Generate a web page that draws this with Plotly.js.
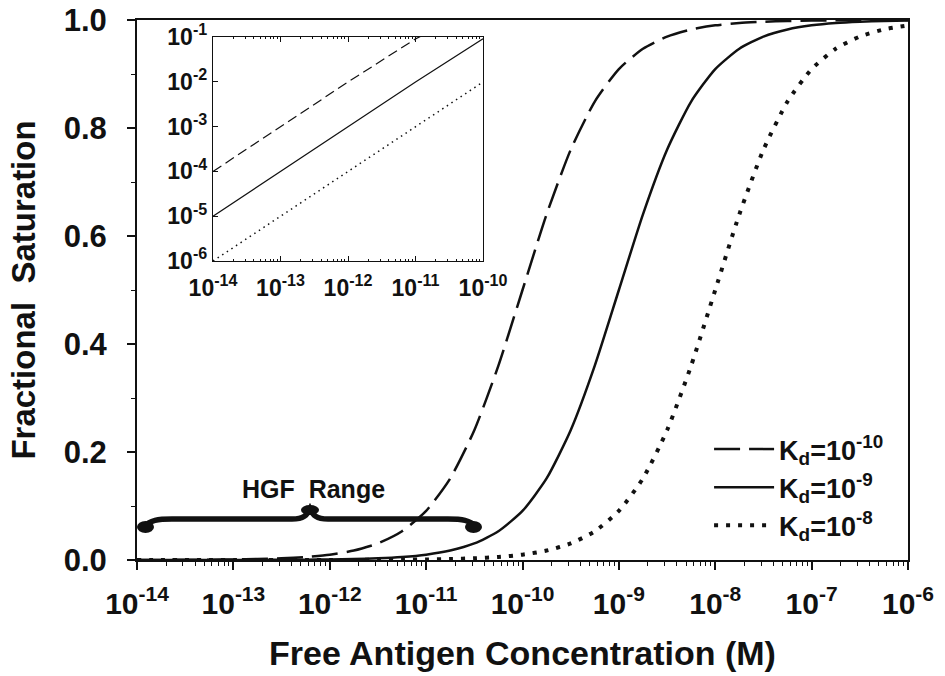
<!DOCTYPE html>
<html>
<head>
<meta charset="utf-8">
<script src="https://cdn.plot.ly/plotly-3.0.1.min.js"></script>
<style>html,body{margin:0;padding:0;background:#fff;}</style>
</head>
<body>
<div id="chart" style="width:945px;height:676px;"></div>
<script>
// Free antigen concentration (M), quarter-decade readings from 1e-14 to 1e-6
var conc = [
  1e-14, 1.778e-14, 3.162e-14, 5.623e-14,
  1e-13, 1.778e-13, 3.162e-13, 5.623e-13,
  1e-12, 1.778e-12, 3.162e-12, 5.623e-12,
  1e-11, 1.778e-11, 3.162e-11, 5.623e-11,
  1e-10, 1.778e-10, 3.162e-10, 5.623e-10,
  1e-9, 1.778e-9, 3.162e-9, 5.623e-9,
  1e-8, 1.778e-8, 3.162e-8, 5.623e-8,
  1e-7, 1.778e-7, 3.162e-7, 5.623e-7,
  1e-6
];
// Fractional saturation, Kd = 1e-10
var satKd10 = [1.0e-4, 1.778e-4, 3.161e-4, 5.62e-4, 9.99e-4, 1.775e-3, 3.152e-3, 5.592e-3, 9.9e-3, 0.01747, 0.03065, 0.05323, 0.0909, 0.151, 0.2403, 0.3599, 0.5, 0.6401, 0.7597, 0.849, 0.9091, 0.9468, 0.9693, 0.9825, 0.9901, 0.9944, 0.9968, 0.9982, 0.999, 0.9994, 0.9997, 0.9998, 0.9999];
// Fractional saturation, Kd = 1e-9
var satKd9 = [1.0e-5, 1.778e-5, 3.162e-5, 5.623e-5, 1.0e-4, 1.778e-4, 3.161e-4, 5.62e-4, 9.99e-4, 1.775e-3, 3.152e-3, 5.592e-3, 9.9e-3, 0.01747, 0.03065, 0.05323, 0.0909, 0.151, 0.2403, 0.3599, 0.5, 0.6401, 0.7597, 0.849, 0.9091, 0.9468, 0.9693, 0.9825, 0.9901, 0.9944, 0.9968, 0.9982, 0.999];
// Fractional saturation, Kd = 1e-8
var satKd8 = [1.0e-6, 1.778e-6, 3.162e-6, 5.623e-6, 1.0e-5, 1.778e-5, 3.162e-5, 5.623e-5, 1.0e-4, 1.778e-4, 3.161e-4, 5.62e-4, 9.99e-4, 1.775e-3, 3.152e-3, 5.592e-3, 9.9e-3, 0.01747, 0.03065, 0.05323, 0.0909, 0.151, 0.2403, 0.3599, 0.5, 0.6401, 0.7597, 0.849, 0.9091, 0.9468, 0.9693, 0.9825, 0.9901];

// Inset (log-log, low concentration)
var insetConc = [1e-14, 1e-13, 1e-12, 1e-11, 1e-10];
var insetKd10 = [1.0e-4, 1.0e-3, 9.9e-3, 0.0909, 0.5];
var insetKd9 = [1.0e-5, 1.0e-4, 1.0e-3, 9.9e-3, 0.0909];
var insetKd8 = [1.0e-6, 1.0e-5, 1.0e-4, 1.0e-3, 9.9e-3];

var seriesNames = ['K<sub>d</sub>=10<sup>-10</sup>', 'K<sub>d</sub>=10<sup>-9</sup>', 'K<sub>d</sub>=10<sup>-8</sup>'];

var xTickVals = [1e-14, 1e-13, 1e-12, 1e-11, 1e-10, 1e-9, 1e-8, 1e-7, 1e-6];
var xTickText = ['10<sup>-14</sup>', '10<sup>-13</sup>', '10<sup>-12</sup>', '10<sup>-11</sup>', '10<sup>-10</sup>', '10<sup>-9</sup>', '10<sup>-8</sup>', '10<sup>-7</sup>', '10<sup>-6</sup>'];
var yTickVals = [0, 0.2, 0.4, 0.6, 0.8, 1.0];
var yTickText = ['0.0', '0.2', '0.4', '0.6', '0.8', '1.0'];
var insetXTickVals = [1e-14, 1e-13, 1e-12, 1e-11, 1e-10];
var insetXTickText = ['10<sup>-14</sup>', '10<sup>-13</sup>', '10<sup>-12</sup>', '10<sup>-11</sup>', '10<sup>-10</sup>'];
var insetYTickVals = [1e-6, 1e-5, 1e-4, 1e-3, 1e-2, 1e-1];
var insetYTickText = ['10<sup>-6</sup>', '10<sup>-5</sup>', '10<sup>-4</sup>', '10<sup>-3</sup>', '10<sup>-2</sup>', '10<sup>-1</sup>'];

var FONT = 'Liberation Sans, Arial, Helvetica, sans-serif';

function minorLog(lo, hi) {
  var v = [];
  for (var e = lo; e < hi; e++) {
    for (var m = 2; m <= 9; m++) v.push(m * Math.pow(10, e));
  }
  return v;
}

var traces = [
  {x: conc, y: satKd10, name: seriesNames[0], mode: 'lines', line: {color: '#111', width: 2.5, dash: '26px,9px', shape: 'spline', smoothing: 0.6}, xaxis: 'x', yaxis: 'y'},
  {x: conc, y: satKd9, name: seriesNames[1], mode: 'lines', line: {color: '#111', width: 2.5, shape: 'spline', smoothing: 0.6}, xaxis: 'x', yaxis: 'y'},
  {x: conc, y: satKd8, name: seriesNames[2], mode: 'lines', line: {color: '#111', width: 4, dash: '4px,8px', shape: 'spline', smoothing: 0.6}, xaxis: 'x', yaxis: 'y'},
  {x: insetConc, y: insetKd10, mode: 'lines', showlegend: false, line: {color: '#111', width: 1.2, dash: '10px,5px'}, xaxis: 'x2', yaxis: 'y2'},
  {x: insetConc, y: insetKd9, mode: 'lines', showlegend: false, line: {color: '#111', width: 1.2}, xaxis: 'x2', yaxis: 'y2'},
  {x: insetConc, y: insetKd8, mode: 'lines', showlegend: false, line: {color: '#111', width: 1.5, dash: '1.5px,4px'}, xaxis: 'x2', yaxis: 'y2'}
];

// plot-area pixel -> paper helper for the brace annotation
var L = 137, R = 908, T = 20, B = 560;
function px(X) { return ((X - L) / (R - L)).toFixed(5); }
function py(Y) { return ((B - Y) / (B - T)).toFixed(5); }
function P(X, Y) { return px(X) + ',' + py(Y); }

var bracePath = 'M' + P(144, 527) +
  ' C' + P(150, 520) + ' ' + P(158, 519) + ' ' + P(172, 519) +
  ' L' + P(292, 519) +
  ' C' + P(304, 519) + ' ' + P(307, 515) + ' ' + P(310, 509) +
  ' C' + P(313, 515) + ' ' + P(316, 519) + ' ' + P(328, 519) +
  ' L' + P(448, 519) +
  ' C' + P(462, 519) + ' ' + P(470, 520) + ' ' + P(476, 527);

var shapes = [
  {type: 'path', xref: 'paper', yref: 'paper', path: bracePath, line: {color: '#111', width: 5.5}},
  {type: 'circle', xref: 'paper', yref: 'paper', x0: px(137), x1: px(154), y0: py(533), y1: py(521), fillcolor: '#111', line: {width: 0}},
  {type: 'circle', xref: 'paper', yref: 'paper', x0: px(465), x1: px(482), y0: py(533), y1: py(521), fillcolor: '#111', line: {width: 0}},
  {type: 'circle', xref: 'paper', yref: 'paper', x0: px(301), x1: px(319), y0: py(515), y1: py(505), fillcolor: '#111', line: {width: 0}}
];

var layout = {
  width: 945, height: 676,
  margin: {l: 137, r: 37, t: 20, b: 116},
  paper_bgcolor: '#fff', plot_bgcolor: '#fff',
  font: {family: FONT, color: '#111', weight: 'bold'},
  showlegend: true,
  legend: {x: 0.742, y: 0.25, xanchor: 'left', yanchor: 'top', bgcolor: 'rgba(0,0,0,0)', borderwidth: 0,
           font: {family: FONT, size: 27, color: '#111', weight: 'bold'}, itemwidth: 60, tracegroupgap: 0},
  xaxis: {
    type: 'log', range: [-14, -6], domain: [0, 1], anchor: 'y',
    tickmode: 'array', tickvals: xTickVals, ticktext: xTickText,
    ticks: 'outside', ticklen: 8, tickwidth: 2, tickcolor: '#111',
    ticklabelstandoff: 8,
    showline: true, linewidth: 2, linecolor: '#111', mirror: true,
    showgrid: false, zeroline: false,
    tickfont: {family: FONT, size: 30, color: '#111', weight: 'bold'},
    minor: {tickmode: 'array', tickvals: minorLog(-14, -6), ticks: 'outside', ticklen: 4, tickwidth: 1, tickcolor: '#111', showgrid: false},
    title: {text: 'Free Antigen Concentration (M)', font: {family: FONT, size: 34, color: '#111', weight: 'bold'}, standoff: 22}
  },
  yaxis: {
    range: [0, 1], domain: [0, 1], anchor: 'x',
    tickmode: 'array', tickvals: yTickVals, ticktext: yTickText,
    ticks: 'outside', ticklen: 8, tickwidth: 2, tickcolor: '#111',
    ticklabelstandoff: 14,
    showline: true, linewidth: 2, linecolor: '#111', mirror: true,
    showgrid: false, zeroline: false,
    tickfont: {family: FONT, size: 31, color: '#111', weight: 'bold'},
    minor: {tickmode: 'linear', tick0: 0, dtick: 0.1, ticks: 'outside', ticklen: 4, tickwidth: 1, tickcolor: '#111', showgrid: false},
    title: {text: 'Fractional\u00a0\u00a0Saturation', font: {family: FONT, size: 33, color: '#111', weight: 'bold'}, standoff: 18}
  },
  xaxis2: {
    type: 'log', range: [-14, -10], domain: [0.0986, 0.4488], anchor: 'y2',
    tickmode: 'array', tickvals: insetXTickVals, ticktext: insetXTickText,
    ticks: 'inside', ticklen: 5, tickwidth: 1, tickcolor: '#111',
    ticklabelstandoff: 6,
    showline: true, linewidth: 1.2, linecolor: '#111', mirror: 'allticks',
    showgrid: false, zeroline: false,
    tickfont: {family: FONT, size: 23, color: '#111', weight: 'bold'},
    minor: {tickmode: 'array', tickvals: minorLog(-14, -10), ticks: 'inside', ticklen: 2, tickwidth: 1, tickcolor: '#111', showgrid: false}
  },
  yaxis2: {
    type: 'log', range: [-6, -1], domain: [0.5537, 0.9685], anchor: 'x2',
    tickmode: 'array', tickvals: insetYTickVals, ticktext: insetYTickText,
    ticks: 'inside', ticklen: 5, tickwidth: 1, tickcolor: '#111',
    showline: true, linewidth: 1.2, linecolor: '#111', mirror: true,
    showgrid: false, zeroline: false,
    tickfont: {family: FONT, size: 23, color: '#111', weight: 'bold'}
  },
  shapes: shapes,
  annotations: [
    {xref: 'paper', yref: 'paper', x: px(314), y: py(489), text: 'HGF\u00a0\u00a0Range', showarrow: false,
     xanchor: 'center', yanchor: 'middle', font: {family: FONT, size: 25, color: '#111', weight: 'bold'}}
  ]
};

Plotly.newPlot('chart', traces, layout, {displayModeBar: false, staticPlot: true});
</script>
</body>
</html>
